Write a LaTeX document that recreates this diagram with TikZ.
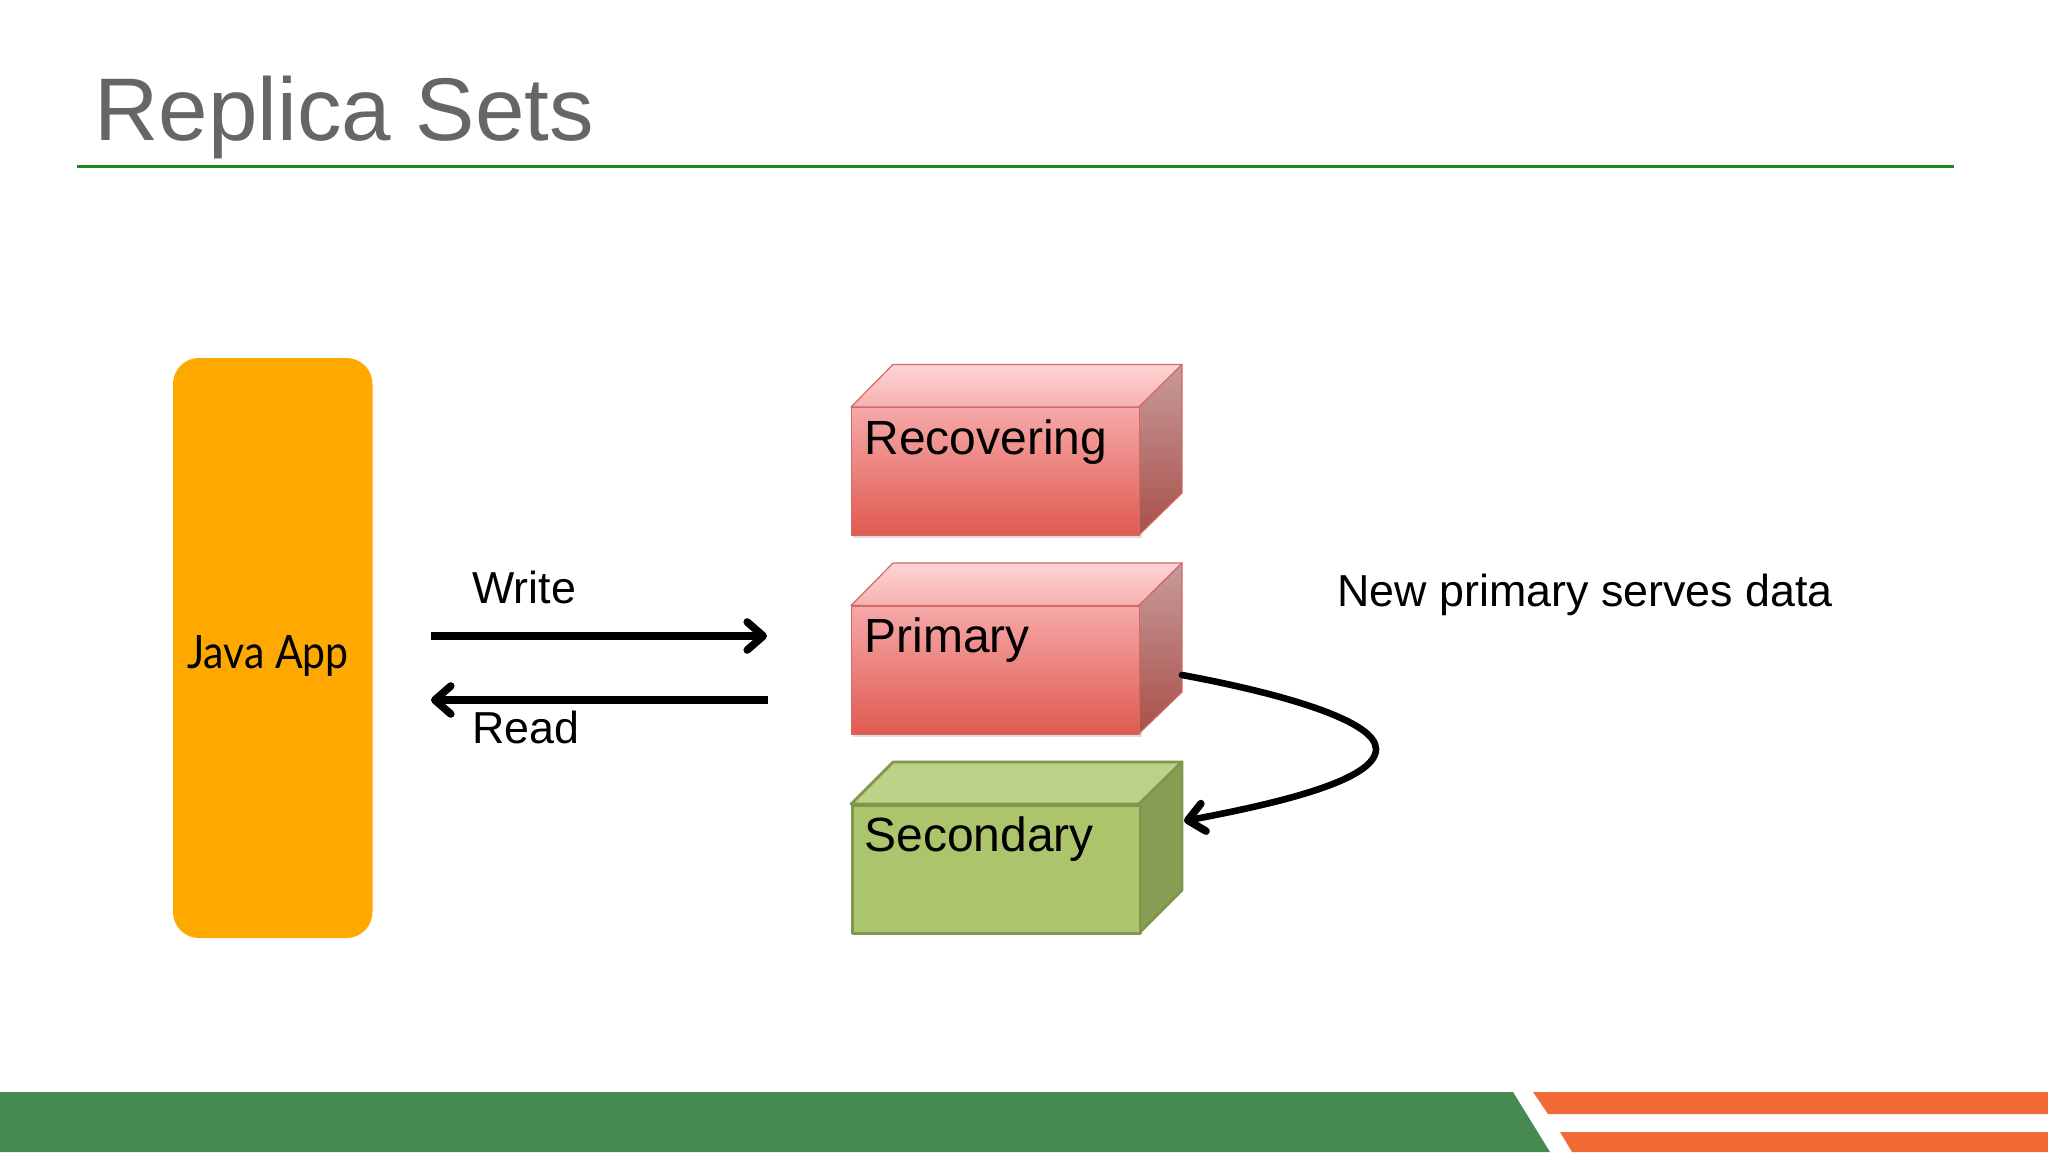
\documentclass[tikz,border=0pt]{standalone}
\usepackage{fontspec}
\setmainfont{Liberation Sans}
\newfontfamily\javafont{Lato}
\usetikzlibrary{arrows.meta}
\definecolor{barGreen}{HTML}{478A50}
\definecolor{barOrange}{HTML}{F26A36}
\definecolor{ruleGreen}{HTML}{1E8A22}
\definecolor{titleGray}{HTML}{666666}
\definecolor{appOrange}{HTML}{FFA900}
\definecolor{topA}{HTML}{FFD4D4}
\definecolor{topB}{HTML}{F6B0B0}
\definecolor{sideA}{HTML}{C89B9B}
\definecolor{sideB}{HTML}{A85048}
\definecolor{frontA}{HTML}{F6A8A8}
\definecolor{frontB}{HTML}{E05A50}
\definecolor{redEdge}{HTML}{CF6A68}
\definecolor{greenEdge}{HTML}{80964E}
\definecolor{greenTop}{HTML}{BCD188}
\definecolor{greenSide}{HTML}{899C54}
\definecolor{greenFront}{HTML}{ACC46B}
\tikzset{
  x=0.5pt,y=-0.5pt,
  label text/.style={inner sep=0pt,anchor=base west,font=\fontsize{22.4}{26}\selectfont,text=black},
  box text/.style={inner sep=0pt,anchor=base west,font=\fontsize{24}{28}\selectfont,text=black},
  boxface/.style={inner sep=0pt,minimum width=144pt,minimum height=64pt,anchor=north west},
  redtop/.style={draw=redEdge,line width=0.6pt,line join=round,top color=topA,bottom color=topB},
  redside/.style={draw=redEdge,line width=0.6pt,line join=round,top color=sideA,bottom color=sideB},
  redfront/.style={boxface,draw=redEdge,line width=0.6pt,top color=frontA,bottom color=frontB},
  greenface/.style={draw=greenEdge,line width=1.4pt,line join=round},
  flow/.style={line width=3.6pt,-{Straight Barb[length=8pt,width=14pt,line width=3.8pt,line cap=round,line join=round]}},
  curveflow/.style={line width=3.3pt,line cap=round,-{Straight Barb[length=8pt,width=14pt,line width=3.8pt,line cap=round,line join=round]}}
}
\begin{document}
\begin{tikzpicture}
\useasboundingbox (0,0) rectangle (2048,1152);
\fill[white] (0,0) rectangle (2048,1152);
% title
\node[inner sep=0pt,anchor=base west,font=\fontsize{44.5}{50}\selectfont,text=titleGray] (title) at (94,140) {Replica Sets};
\coordinate (ruleL) at (77,166.5);
\coordinate (ruleR) at (1954,166.5);
\draw[ruleGreen,line width=1.5pt] (ruleL) -- (ruleR);
% footer
\fill[barGreen] (0,1092) -- (1513,1092) -- (1550,1152) -- (0,1152) -- cycle;
\fill[barOrange] (1533,1092) -- (2048,1092) -- (2048,1114) -- (1548,1114) -- cycle;
\fill[barOrange] (1560,1132) -- (2048,1132) -- (2048,1152) -- (1572,1152) -- cycle;
% Java App
\fill[appOrange,rounded corners=13pt] (173,358) rectangle (372.5,938);
\node[inner sep=0pt,anchor=base west,font=\javafont\fontsize{23}{26}\selectfont,text=black] (java) at (187,668) {\scalebox{0.89}[1]{Java App}};
% Recovering
\fill[black!25,opacity=.5] (853,409) rectangle (1142,538);
\path[redtop] (851,407) -- (893,364.5) -- (1182,364.5) -- (1139,407) -- cycle;
\path[redside] (1139,407) -- (1182,364.5) -- (1182,493) -- (1139,535) -- cycle;
\node[redfront] (recbox) at (851,407) {};
\node[box text] (rec) at (864,454) {Recovering};
% Primary
\fill[black!25,opacity=.5] (853,608) rectangle (1142,737);
\path[redtop] (851,605.5) -- (893,563) -- (1182,563) -- (1139,605.5) -- cycle;
\path[redside] (1139,605.5) -- (1182,563) -- (1182,692) -- (1139,733.5) -- cycle;
\node[redfront] (pribox) at (851,605.5) {};
\node[box text] (pri) at (864,652) {Primary};
% Secondary
\path[greenface,fill=greenTop] (851,804) -- (893,762) -- (1182,762) -- (1139,804) -- cycle;
\path[greenface,fill=greenSide] (1139,804) -- (1182,762) -- (1182,890) -- (1139,933) -- cycle;
\node[boxface,greenface,fill=greenFront] (secbox) at (851,804) {};
\node[box text] (sec) at (864,851) {Secondary};
% labels
\node[label text] (write) at (472,603) {Write};
\node[label text] (read) at (472,743) {Read};
\node[label text] (newp) at (1337,606) {New primary serves data};
% connectors
\coordinate (wS) at (431,636);
\coordinate (wE) at (767,636);
\coordinate (rS) at (768,700);
\coordinate (rE) at (431,700);
\coordinate (cS) at (1182,675);
\coordinate (cM) at (1376,749);
\coordinate (cE) at (1184,821);
\draw[flow] (wS) -- (wE);
\draw[flow] (rS) -- (rE);
\draw[curveflow] (cS) .. controls (1290,695) and (1376,722) .. (cM) .. controls (1376,780) and (1280,803) .. (cE);
\end{tikzpicture}
\end{document}
